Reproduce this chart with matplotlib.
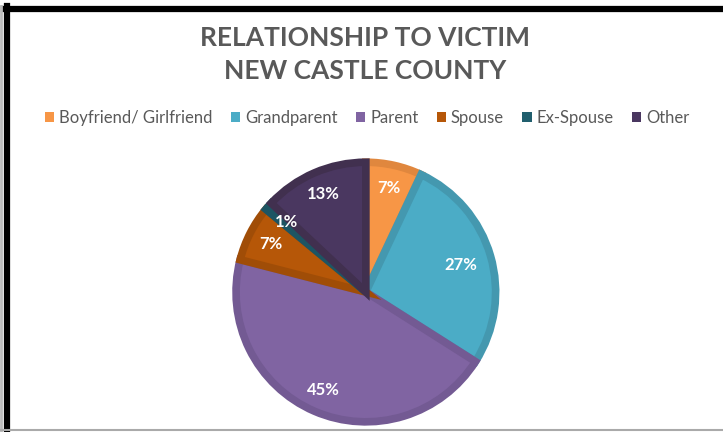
import matplotlib.pyplot as plt
from matplotlib.lines import Line2D
from matplotlib.patches import Patch

plt.rcParams['font.family'] = ['Lato', 'DejaVu Sans']

labels = ['Boyfriend/ Girlfriend', 'Grandparent', 'Parent', 'Spouse', 'Ex-Spouse', 'Other']
values = [7, 27, 45, 7, 1, 13]
colors = ['#F79646', '#4BACC6', '#8064A2', '#B65708', '#215F6E', '#4A3760']
edges = ['#E0873E', '#4498AF', '#735A93', '#A04D07', '#1D5563', '#41304F']

fig = plt.figure(figsize=(7.23, 4.32), dpi=100)
ax = fig.add_axes([0.322, 0.016, 0.368, 0.616])

wedges, texts, pcts = ax.pie(values, colors=colors, startangle=90, counterclock=False,
                             autopct='%1.0f%%', pctdistance=0.82,
                             wedgeprops=dict(linewidth=5.5),
                             textprops=dict(color='white', fontsize=12, fontweight='bold'))
for w, e in zip(wedges, edges):
    w.set_edgecolor(e)
    w.set_clip_path(w)
pcts[1].set_position((0.73, 0.21))
ax.set_xlim(-1.025, 1.025)
ax.set_ylim(-1.025, 1.025)
ax.set_aspect('equal')

fig.text(0.505, 0.912, 'RELATIONSHIP TO VICTIM', ha='center', va='center',
         fontsize=19, fontweight='bold', color='#595959')
fig.text(0.505, 0.836, 'NEW CASTLE COUNTY', ha='center', va='center',
         fontsize=19, fontweight='bold', color='#595959')

handles = [Patch(facecolor=c, edgecolor='none') for c in colors]
fig.legend(handles, labels, loc='center', bbox_to_anchor=(0.508, 0.727), ncol=6,
           frameon=False, fontsize=12, labelcolor='#595959',
           handlelength=0.55, handleheight=0.55, handletextpad=0.3, columnspacing=1.1)

# frame lines
fig.add_artist(Line2D([0.005, 1.0], [0.98, 0.98], color='black', lw=4.5))
fig.add_artist(Line2D([0.009, 0.009], [0.985, 0.0], color='black', lw=4.5))
fig.add_artist(Line2D([0.002, 0.002], [0.985, 0.0], color='#bbbbbb', lw=2))
fig.add_artist(Line2D([0.0, 1.0], [0.004, 0.004], color='#aaaaaa', lw=1.5))

fig.savefig('out.png', dpi=100)
